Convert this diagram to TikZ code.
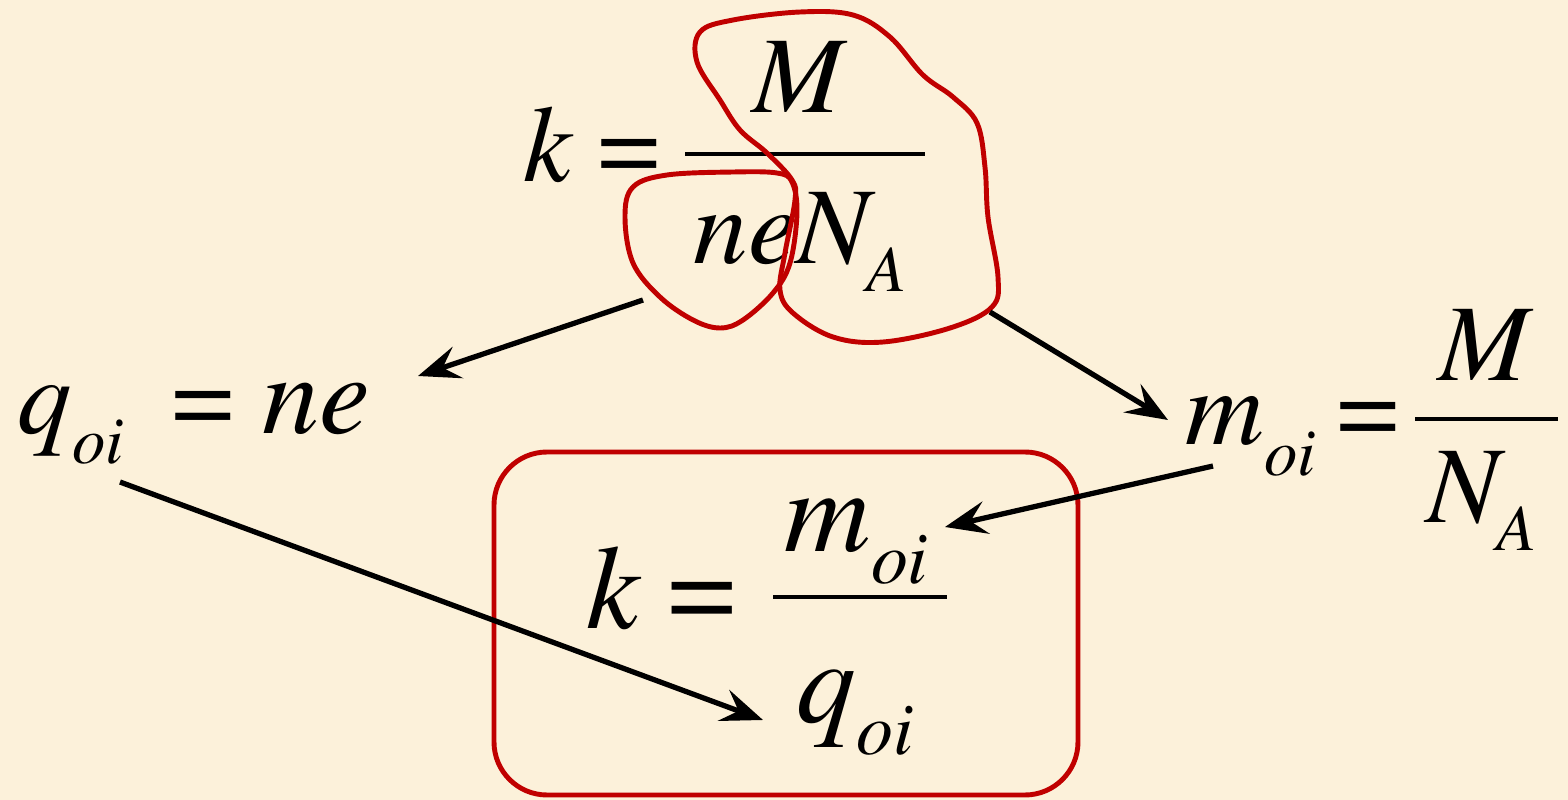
\documentclass[tikz,border=0pt]{standalone}
\usepackage{amsmath}
\usepackage{mathptmx}
\usetikzlibrary{arrows.meta}

\definecolor{paper}{RGB}{252,241,218}
\definecolor{inkred}{RGB}{192,0,0}

\newcommand{\eqs}{\mathrel{\hbox{\fontencoding{OT1}\fontfamily{ptm}\fontshape{n}\selectfont=}}}
\newcommand{\lowsub}[2][19]{_{\lower4pt\hbox{\fontsize{#1}{#1}\selectfont$#2$}}}
\newcommand{\tinysub}[1]{_{\lower3.5pt\hbox{$\scriptscriptstyle #1$}}}

\begin{document}
\begin{tikzpicture}[x=0.01cm, y=-0.01cm,
        eqn/.style={inner sep=0pt, anchor=base west, font=\fontsize{31}{36}\selectfont},
        eqnc/.style={eqn, anchor=base},
        big/.style={inner sep=0pt, anchor=base west, font=\fontsize{34}{40}\selectfont},
        bar/.style={line width=1.3pt},
        paths/.style={line width=1.5pt, -{Stealth[length=4.2mm, width=3.3mm, inset=1.6mm]}},
        loop/.style={inkred, line width=1.4pt},
        frame/.style={inkred, line width=1.4pt, rounded corners=0.53cm}
    ]
        \fill[paper] (0,0) rectangle (1568,800);
        \useasboundingbox (0,0) rectangle (1568,800);

        % Nodes: k = M / (ne N_A)
        \node[eqn] (k0) at (523,182) {$k\eqs$};
        \node[eqnc] (num0) at (800,113) {$M$};
        \node[eqn] (den0) at (693,263) {$neN\tinysub{A}$};
        \draw[bar] (685,154) -- (925,154);

        % Nodes: q_oi = ne
        \node[eqn] (qoi) at (17,433) {$q\lowsub{oi}$};
        \node[eqn] (eq0) at (172,433) {$\eqs$};
        \node[eqn, font=\fontsize{32.5}{38}\selectfont] (ne) at (262,433) {$ne$};

        % Nodes: m_oi = M / N_A
        \node[eqn] (moi) at (1185,445) {$m\lowsub{oi}$};
        \node[eqn] (eq1) at (1337,445) {$\eqs$};
        \node[eqnc] (num1) at (1486,380) {$M$};
        \node[eqn] (den1) at (1426,522) {$N\tinysub{A}$};
        \draw[bar] (1415,419) -- (1558,419);

        % Result in the box
        \node[big] (k1) at (586,628) {$k\eqs$};
        \node[big] (num2) at (784,551) {$m\lowsub[21]{oi}$};
        \node[big] (den2) at (796,722) {$q\lowsub[21]{oi}$};
        \draw[bar] (773,597) -- (947,597);
        \draw[frame] (494,452) rectangle (1078,795);

        % Loops round the parts
        \draw[loop] plot[smooth cycle, tension=0.6] coordinates {
            (700,32) (733,20) (800,12) (853,15) (890,37) (923,75) (953,97)
            (977,123) (985,167) (988,217) (998,277) (992,307) (950,328)
            (883,342) (833,337) (793,313) (780,290) (785,253) (795,200)
            (792,180) (767,153) (740,130) (720,100) (697,62)};
        \draw[loop] plot[smooth cycle, tension=0.6] coordinates {
            (633,187) (667,175) (733,172) (777,173) (792,182) (797,213)
            (790,263) (773,293) (743,320) (720,328) (693,320) (660,297)
            (633,263) (625,217)};

        % Arrow ends
        \coordinate (ne-out) at (643,300);
        \coordinate (qoi-in) at (418,376);
        \coordinate (na-out) at (990,312);
        \coordinate (moi-in) at (1168,420);
        \coordinate (moi-out) at (1213,466);
        \coordinate (num2-in) at (945,527);
        \coordinate (qoi-out) at (120,482);
        \coordinate (den2-in) at (763,720);

        % Paths
        \draw[paths] (ne-out) -- (qoi-in);
        \draw[paths] (na-out) -- (moi-in);
        \draw[paths] (moi-out) -- (num2-in);
        \draw[paths] (qoi-out) -- (den2-in);
    \end{tikzpicture}
\end{document}
